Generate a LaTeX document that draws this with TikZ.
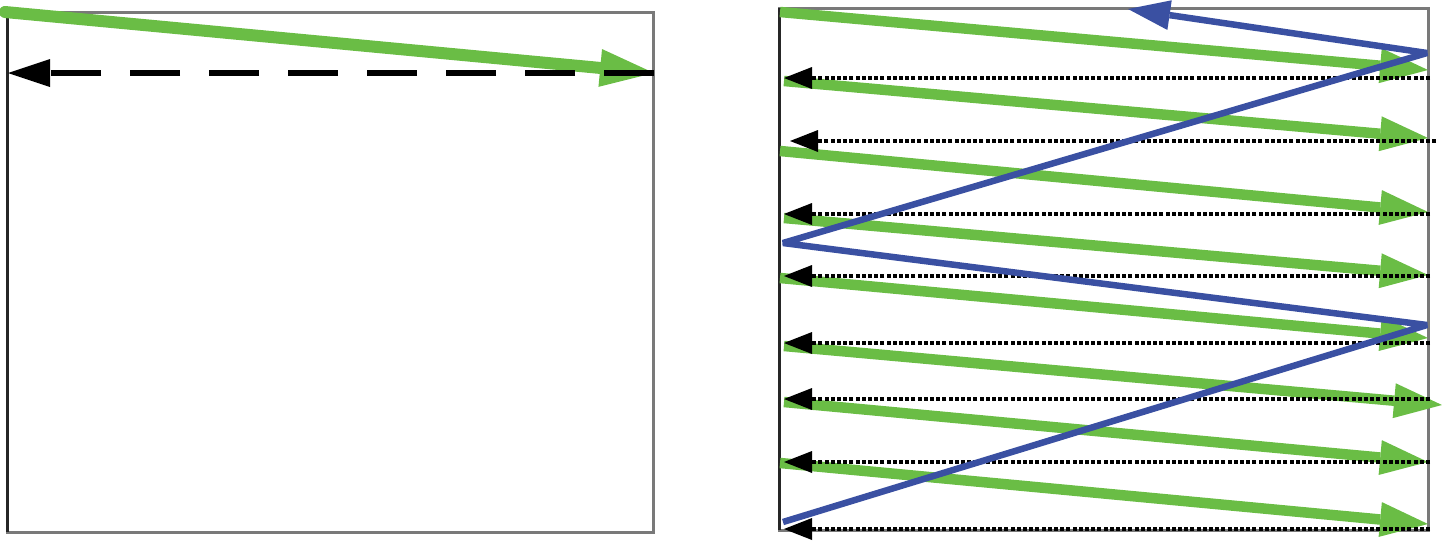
\documentclass[tikz,border=0pt]{standalone}
\usepackage{xcolor}
\usetikzlibrary{arrows.meta}

\definecolor{scangreen}{RGB}{106,189,69}
\definecolor{scanblue}{RGB}{58,80,162}

\begin{document}
\begin{tikzpicture}[
    x=1pt, y=-1pt,
    frame/.style={draw=gray!95!black, line width=3pt},
    leftedge/.style={draw=black!85, line width=3pt},
    bigsweep/.style={draw=scangreen, line width=12pt, line cap=round,
                     -{Triangle[length=54pt, width=38pt, line width=0pt 0 0]}},
    sweep/.style={draw=scangreen, line width=10.5pt,
                  -{Triangle[length=48pt, width=35pt, line width=0pt 0 0]}},
    bigback/.style={draw=black, line width=6pt, dash pattern=on 50pt off 29pt,
                    -{Triangle[length=42pt, width=28pt, line width=0pt 0 0]}},
    back/.style={draw=black, line width=3.5pt, dash pattern=on 4pt off 2.2pt,
                 -{Triangle[length=28pt, width=22pt, line width=0pt 0 0]}},
    frameback/.style={draw=scanblue, line width=6.5pt, line join=bevel,
                      -{Triangle[length=42pt, width=30pt, line width=0pt 0 0]}}
]
    \useasboundingbox (0,0) rectangle (1442,546);

    % left: one line
    \coordinate (lnw) at (7,12);
    \coordinate (lse) at (653,532);
    \draw[frame] (lnw) rectangle (lse);
    \draw[leftedge] (lnw) -- (lnw |- lse);

    \coordinate (ls) at (5,12);
    \coordinate (le) at (654,73);
    \coordinate (lr) at (8,73);
    \draw[bigsweep] (ls) -- (le);
    \draw[bigback] (le) -- (lr);

    % right: whole frame
    \coordinate (rnw) at (779,8);
    \coordinate (rse) at (1428,530);
    \draw[frame] (rnw) rectangle (rse);
    \draw[leftedge] (rnw) -- (rnw |- rse);

    \coordinate (g1s) at (780,12);  \coordinate (g1e) at (1428,70);
    \coordinate (g2s) at (784,81);  \coordinate (g2e) at (1428,138);
    \coordinate (g3s) at (780,151); \coordinate (g3e) at (1428,212);
    \coordinate (g4s) at (784,218); \coordinate (g4e) at (1428,275);
    \coordinate (g5s) at (780,278); \coordinate (g5e) at (1428,338);
    \coordinate (g6s) at (784,346); \coordinate (g6e) at (1442,405);
    \coordinate (g7s) at (784,402); \coordinate (g7e) at (1428,462);
    \coordinate (g8s) at (780,463); \coordinate (g8e) at (1428,524);

    \draw[sweep] (g1s) -- (g1e);
    \draw[sweep] (g2s) -- (g2e);
    \draw[sweep] (g3s) -- (g3e);
    \draw[sweep] (g4s) -- (g4e);
    \draw[sweep] (g5s) -- (g5e);
    \draw[sweep] (g6s) -- (g6e);
    \draw[sweep] (g7s) -- (g7e);
    \draw[sweep] (g8s) -- (g8e);

    \coordinate (r1s) at (1430,78);  \coordinate (r1e) at (784,78);
    \coordinate (r2s) at (1436,141); \coordinate (r2e) at (790,141);
    \coordinate (r3s) at (1430,214); \coordinate (r3e) at (784,214);
    \coordinate (r4s) at (1430,276); \coordinate (r4e) at (784,276);
    \coordinate (r5s) at (1430,343); \coordinate (r5e) at (784,343);
    \coordinate (r6s) at (1430,399); \coordinate (r6e) at (784,399);
    \coordinate (r7s) at (1430,462); \coordinate (r7e) at (784,462);
    \coordinate (r8s) at (1430,529); \coordinate (r8e) at (784,529);

    \draw[back] (r1s) -- (r1e);
    \draw[back] (r2s) -- (r2e);
    \draw[back] (r3s) -- (r3e);
    \draw[back] (r4s) -- (r4e);
    \draw[back] (r5s) -- (r5e);
    \draw[back] (r6s) -- (r6e);
    \draw[back] (r7s) -- (r7e);
    \draw[back] (r8s) -- (r8e);

    % vertical retrace
    \coordinate (b0) at (783,522);
    \coordinate (b1) at (1427,325);
    \coordinate (b2) at (783,243);
    \coordinate (b3) at (1427,53);
    \coordinate (b4) at (1128,9);
    \draw[frameback] (b0) -- (b1) -- (b2) -- (b3) -- (b4);
\end{tikzpicture}
\end{document}
